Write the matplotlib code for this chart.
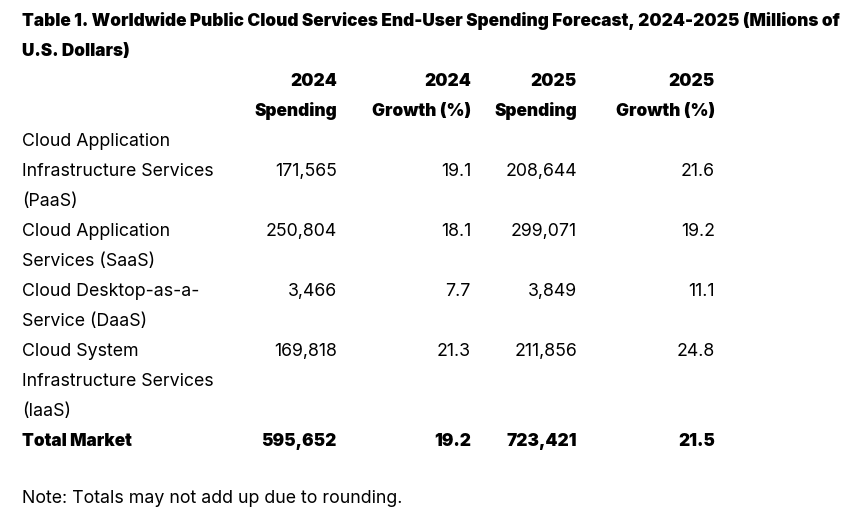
import matplotlib.pyplot as plt

plt.rcParams['font.family'] = ['Inter', 'DejaVu Sans']

# Tabellendaten
title = ("Table 1. Worldwide Public Cloud Services End-User Spending Forecast, 2024-2025 (Millions of\n"
         "U.S. Dollars)")
col_headers = ["2024\nSpending", "2024\nGrowth (%)", "2025\nSpending", "2025\nGrowth (%)"]
row_labels = [
    "Cloud Application\nInfrastructure Services\n(PaaS)",
    "Cloud Application\nServices (SaaS)",
    "Cloud Desktop-as-a-\nService (DaaS)",
    "Cloud System\nInfrastructure Services\n(IaaS)",
]
spend_2024 = ["171,565", "250,804", "3,466", "169,818"]
growth_2024 = ["19.1", "18.1", "7.7", "21.3"]
spend_2025 = ["208,644", "299,071", "3,849", "211,856"]
growth_2025 = ["21.6", "19.2", "11.1", "24.8"]
total_row = ["Total Market", "595,652", "19.2", "723,421", "21.5"]
note = "Note: Totals may not add up due to rounding."

# Zeile (innerhalb der Beschriftung), in der die Werte stehen
value_line = [1, 0, 0, 0]

W, H = 868, 516
fig = plt.figure(figsize=(W / 100, H / 100), dpi=100)
fig.patch.set_facecolor("white")


def put(x, y, s, ha="left", weight="normal", size=12.8):
    fig.text(x / W, 1 - (y + 1.5) / H, s, ha=ha, va="center", fontsize=size,
             fontweight=weight, color="black")


line_h = 30
col_x = [337, 471, 577, 715]
left = 22
bold_size = 12.4

# Titel
put(left, 20, title.split("\n")[0], weight="black", size=bold_size)
put(left, 50, title.split("\n")[1], weight="black", size=bold_size)

# Kopfzeile
for x, h in zip(col_x, col_headers):
    top, bottom = h.split("\n")
    put(x, 80, top, ha="right", weight="black", size=bold_size)
    put(x, 110, bottom, ha="right", weight="black", size=bold_size)

# Datenzeilen
y = 140
for lab, vl, a, b, c, d in zip(row_labels, value_line, spend_2024, growth_2024,
                               spend_2025, growth_2025):
    lines = lab.split("\n")
    for i, ln in enumerate(lines):
        put(left, y + i * line_h, ln)
    for x, v in zip(col_x, [a, b, c, d]):
        put(x, y + vl * line_h, v, ha="right")
    y += len(lines) * line_h

# Summenzeile
put(left, y, total_row[0], weight="black", size=bold_size)
for x, v in zip(col_x, total_row[1:]):
    put(x, y, v, ha="right", weight="black", size=bold_size)

# Fußnote
put(left, 497, note)

fig.savefig("out.png", dpi=100, facecolor="white")
